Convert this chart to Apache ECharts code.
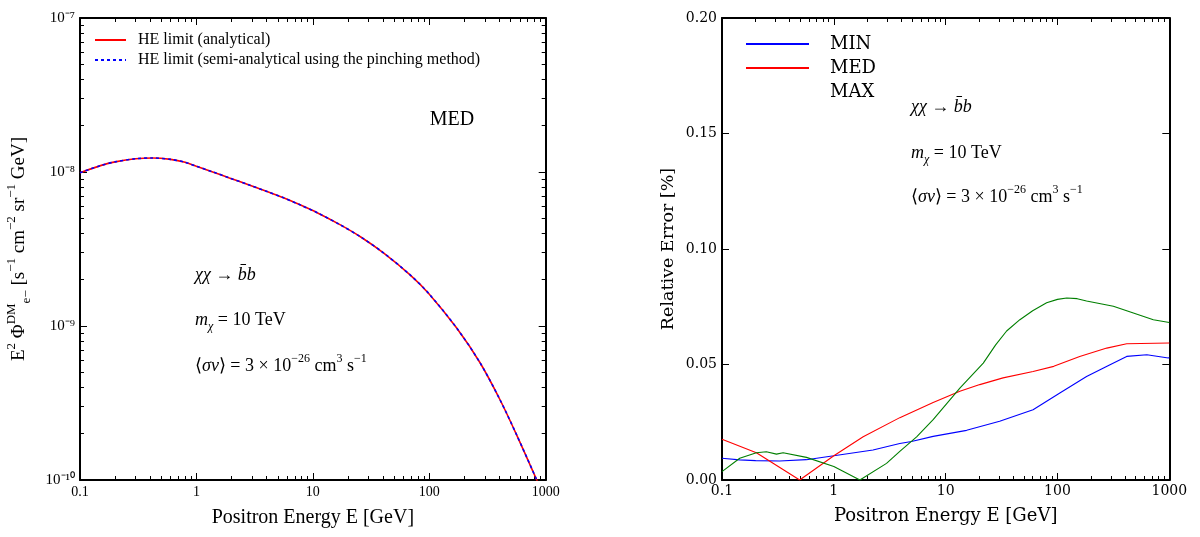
<!DOCTYPE html>
<html><head><meta charset="utf-8">
<script src="https://cdn.jsdelivr.net/npm/echarts@6/dist/echarts.min.js"></script>
<style>html,body{margin:0;padding:0;background:#fff}#c{width:1200px;height:537px}</style>
</head><body><div id="c"></div>
<script>
// ---------- Left panel: positron flux (log-log) ----------
const fluxEnergy     = [0.1, 0.15, 0.2, 0.3, 0.42, 0.6, 0.8, 1, 1.4, 1.92, 2.8, 4.1, 5.6, 7.76, 11, 17.1, 26, 40.4, 68.4, 98.4, 172, 273, 405, 565, 838, 950];
const fluxAnalytical = [9.9e-9, 1.10e-8, 1.163e-8, 1.219e-8, 1.233e-8, 1.208e-8, 1.156e-8, 1.09e-8, 9.98e-9, 9.15e-9, 8.26e-9, 7.44e-9, 6.8e-9, 6.12e-9, 5.42e-9, 4.55e-9, 3.77e-9, 2.985e-9, 2.15e-9, 1.633e-9, 9.7e-10, 5.77e-10, 3.32e-10, 1.95e-10, 1.0e-10, 8.0e-11];
const fluxPinching   = [9.9e-9, 1.10e-8, 1.163e-8, 1.219e-8, 1.233e-8, 1.208e-8, 1.156e-8, 1.09e-8, 9.98e-9, 9.15e-9, 8.26e-9, 7.44e-9, 6.8e-9, 6.12e-9, 5.42e-9, 4.55e-9, 3.77e-9, 2.985e-9, 2.15e-9, 1.633e-9, 9.7e-10, 5.77e-10, 3.32e-10, 1.95e-10, 1.0e-10, 8.0e-11];

// ---------- Right panel: relative error ----------
const minEnergy = [0.1, 0.144, 0.2, 0.328, 0.569, 1, 2.24, 3.89, 4.95, 7.73, 15.4, 30.4, 60.5, 105, 182, 295, 416, 630, 980, 1000];
const minError  = [0.0094, 0.0087, 0.0084, 0.0082, 0.0088, 0.0105, 0.0130, 0.0158, 0.0167, 0.0189, 0.0215, 0.0254, 0.0304, 0.0377, 0.0448, 0.0499, 0.0535, 0.0542, 0.0528, 0.0530];
const medEnergy = [0.1, 0.203, 0.495, 1, 1.83, 3.89, 7.73, 13.4, 20.2, 32.6, 60.5, 92.6, 158, 276, 416, 1000];
const medError  = [0.0176, 0.0118, 0.0, 0.0105, 0.0187, 0.0270, 0.0336, 0.0384, 0.0413, 0.0442, 0.0470, 0.0492, 0.0535, 0.0571, 0.0590, 0.0593];
const maxEnergy = [0.1, 0.144, 0.203, 0.249, 0.307, 0.352, 0.569, 1, 1.71, 2.96, 3.89, 5.5, 7.73, 13.4, 21.7, 28, 35.1, 46.1, 60, 80, 100, 121, 150, 182, 316, 477, 720, 1000];
const maxError  = [0.0036, 0.0094, 0.0118, 0.0122, 0.0112, 0.0118, 0.0098, 0.0058, 0.0, 0.0072, 0.0124, 0.0187, 0.0261, 0.0398, 0.0506, 0.0585, 0.0645, 0.0694, 0.0733, 0.0767, 0.0782, 0.0788, 0.0785, 0.0775, 0.0752, 0.0723, 0.0694, 0.0682];

// ---------- Ticks ----------
const energyTicks      = [0.1, 1, 10, 100, 1000];
const energyTickLabels = ['0.1', '1', '10', '100', '1000'];
const fluxTicks        = [1e-10, 1e-9, 1e-8, 1e-7];
const fluxTickLabels   = ['10⁻¹⁰', '10⁻⁹', '10⁻⁸', '10⁻⁷'];
const errorTickLabels  = ['0.00', '0.05', '0.10', '0.15', '0.20'];
const minorMultipliers = [2, 3, 4, 5, 6, 7, 8, 9];

function minorOf(majors) {
  const out = [];
  for (let i = 0; i < majors.length - 1; i++) minorMultipliers.forEach(m => out.push(majors[i] * m));
  return out;
}
const energyMinor = minorOf(energyTicks);
const fluxMinor = minorOf(fluxTicks);
const pairs = (xs, ys) => xs.map((x, i) => [x, ys[i]]);

const SERIF_L = 'Liberation Serif';
const SERIF_R = 'DejaVu Serif';

function axis(o) {
  return Object.assign({
    splitLine: { show: false },
    axisLine: { show: false, onZero: false, lineStyle: { color: '#000', width: 2 } },
    axisTick: { show: true, inside: true, length: 7, lineStyle: { color: '#000', width: 1 } },
    axisLabel: { show: false }
  }, o);
}
function logX(grid, pos, ticks, len, line, labels, extra) {
  return axis(Object.assign({
    type: 'log', gridIndex: grid, position: pos, min: 0.1, max: 1000,
    axisLine: { show: line, onZero: false, lineStyle: { color: '#000', width: 2 } },
    axisTick: { show: true, inside: true, length: len, customValues: ticks, lineStyle: { color: '#000', width: 1 } },
    axisLabel: labels || { show: false }
  }, extra || {}));
}
function logY(pos, ticks, len, line, labels) {
  return axis({
    type: 'log', gridIndex: 0, position: pos, min: 1e-10, max: 1e-7,
    axisLine: { show: line, onZero: false, lineStyle: { color: '#000', width: 2 } },
    axisTick: { show: true, inside: true, length: len, customValues: ticks, lineStyle: { color: '#000', width: 1 } },
    axisLabel: labels || { show: false }
  });
}

const leftXLabels = {
  show: true, customValues: energyTicks, margin: 5,
  formatter: v => energyTickLabels[energyTicks.findIndex(t => Math.abs(Math.log10(t) - Math.log10(v)) < 1e-6)],
  fontFamily: SERIF_L, fontSize: 14, color: '#000'
};
const rightXLabels = Object.assign({}, leftXLabels, { fontFamily: SERIF_R, fontSize: 14, margin: 4 });

const option = {
  backgroundColor: '#fff',
  animation: false,
  grid: [
    { left: 80, top: 18, width: 465.7, height: 462 },
    { left: 722, top: 18, width: 447.3, height: 462 }
  ],
  xAxis: [
    logX(0, 'bottom', energyTicks, 7, true, leftXLabels, {
      name: 'Positron Energy E [GeV]', nameLocation: 'middle', nameGap: 28,
      nameTextStyle: { fontFamily: SERIF_L, fontSize: 20, color: '#000' }
    }),
    logX(0, 'bottom', energyMinor, 4, false),
    logX(0, 'top', energyTicks, 7, true),
    logX(0, 'top', energyMinor, 4, false),
    logX(1, 'bottom', energyTicks, 7, true, rightXLabels, {
      name: 'Positron Energy E [GeV]', nameLocation: 'middle', nameGap: 27,
      nameTextStyle: { fontFamily: SERIF_R, fontSize: 18, color: '#000' }
    }),
    logX(1, 'bottom', energyMinor, 4, false),
    logX(1, 'top', energyTicks, 7, true),
    logX(1, 'top', energyMinor, 4, false)
  ],
  yAxis: [
    logY('left', fluxTicks, 7, true, {
      show: true, customValues: fluxTicks, margin: 5,
      formatter: v => fluxTickLabels[Math.round(Math.log10(v)) + 10],
      fontFamily: SERIF_L, fontSize: 15, color: '#000'
    }),
    logY('left', fluxMinor, 4, false),
    logY('right', fluxTicks, 7, true),
    logY('right', fluxMinor, 4, false),
    axis({
      type: 'value', gridIndex: 1, position: 'left', min: 0, max: 0.2, interval: 0.05,
      axisLine: { show: true, onZero: false, lineStyle: { color: '#000', width: 2 } },
      axisLabel: { show: true, margin: 5, formatter: v => errorTickLabels[Math.round(v / 0.05)],
        fontFamily: SERIF_R, fontSize: 14, color: '#000' },
      name: 'Relative Error [%]', nameLocation: 'middle', nameGap: 45,
      nameTextStyle: { fontFamily: SERIF_R, fontSize: 17.5, color: '#000' }
    }),
    axis({
      type: 'value', gridIndex: 1, position: 'right', min: 0, max: 0.2, interval: 0.05,
      axisLine: { show: true, onZero: false, lineStyle: { color: '#000', width: 2 } }
    })
  ],
  legend: [
    {
      data: ['HE limit (analytical)', 'HE limit (semi-analytical using the pinching method)'],
      left: 94, top: 32, padding: 0, orient: 'vertical', itemWidth: 31, itemHeight: 14, itemGap: 4,
      selectedMode: false, itemStyle: { opacity: 0 },
      textStyle: { fontFamily: SERIF_L, fontSize: 16, color: '#000', padding: [0, 0, 0, 7] }
    },
    {
      data: ['MIN', 'MED', { name: 'MAX', itemStyle: { opacity: 0 }, lineStyle: { opacity: 0 } }],
      left: 745, top: 35, padding: 0, orient: 'vertical', itemWidth: 63, itemHeight: 14, itemGap: 6,
      selectedMode: false, itemStyle: { opacity: 0 },
      textStyle: { fontFamily: SERIF_R, fontSize: 18, color: '#000', padding: [0, 0, 0, 16] }
    }
  ],
  series: [
    { name: 'HE limit (analytical)', type: 'line', xAxisIndex: 0, yAxisIndex: 0, data: pairs(fluxEnergy, fluxAnalytical),
      smooth: 0.3, symbol: 'none', lineStyle: { color: '#ff0000', width: 1.6 }, itemStyle: { color: '#ff0000' } },
    { name: 'HE limit (semi-analytical using the pinching method)', type: 'line', xAxisIndex: 0, yAxisIndex: 0, data: pairs(fluxEnergy, fluxPinching),
      smooth: 0.3, symbol: 'none', lineStyle: { color: '#0000ff', width: 1.6, type: [3, 3] }, itemStyle: { color: '#0000ff' } },
    { name: 'MIN', type: 'line', xAxisIndex: 4, yAxisIndex: 4, data: pairs(minEnergy, minError),
      symbol: 'none', lineStyle: { color: '#0000ff', width: 1.1 }, itemStyle: { color: '#0000ff' } },
    { name: 'MED', type: 'line', xAxisIndex: 4, yAxisIndex: 4, data: pairs(medEnergy, medError),
      symbol: 'none', lineStyle: { color: '#ff0000', width: 1.1 }, itemStyle: { color: '#ff0000' } },
    { name: 'MAX', type: 'line', xAxisIndex: 4, yAxisIndex: 4, data: pairs(maxEnergy, maxError),
      symbol: 'none', lineStyle: { color: '#007f00', width: 1.1 }, itemStyle: { color: '#007f00' } }
  ],
  graphic: (function () {
    const rich = {
      i: { fontStyle: 'italic', fontFamily: SERIF_L, fontSize: 18, lineHeight: 26, fill: '#000' },
      sub: { fontStyle: 'italic', fontFamily: SERIF_L, fontSize: 12, lineHeight: 12, verticalAlign: 'bottom', fill: '#000' },
      sup: { fontFamily: SERIF_L, fontSize: 12, lineHeight: 12, verticalAlign: 'top', fill: '#000' }
    };
    const lines = [
      '{i|χχ} → {i|b̄b}',
      '{i|m}{sub|χ} = 10 TeV',
      '⟨{i|σv}⟩ = 3 × 10{sup|−26} cm{sup|3} s{sup|−1}'
    ];
    const txt = (x, y, s) => ({ type: 'text', x: x, y: y, style: {
      text: s, rich: rich, fontFamily: SERIF_L, fontSize: 18, lineHeight: 26, fill: '#000', align: 'left', verticalAlign: 'middle' } });
    const labRich = {
      sup: { fontFamily: SERIF_L, fontSize: 13, lineHeight: 13, verticalAlign: 'top', fill: '#000' },
      sub: { fontFamily: SERIF_L, fontSize: 13, lineHeight: 13, verticalAlign: 'bottom', fill: '#000' }
    };
    return [
      txt(195, 275, lines[0]), txt(195, 320, lines[1]), txt(195, 366, lines[2]),
      txt(911, 107, lines[0]), txt(911, 153, lines[1]), txt(911, 197, lines[2]),
      { type: 'text', x: 452, y: 120, style: { text: 'MED', fontFamily: SERIF_L, fontSize: 20, fill: '#000', align: 'center', verticalAlign: 'middle' } },
      { type: 'text', x: 19, y: 249, rotation: Math.PI / 2, style: {
        text: 'E{sup|2} Φ{sup|DM}{sub|e−} [s{sup|−1} cm{sup|−2} sr{sup|−1} GeV]', rich: labRich,
        fontFamily: SERIF_L, fontSize: 19, lineHeight: 28, fill: '#000', align: 'center', verticalAlign: 'middle' } }
    ];
  })()
};

const chart = echarts.init(document.getElementById('c'), null, { renderer: 'canvas' });
chart.setOption(option);
</script>
</body></html>
